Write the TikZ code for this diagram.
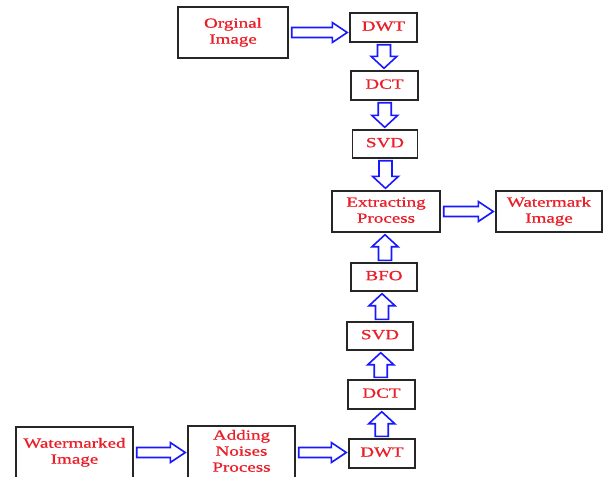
\documentclass[tikz,border=0pt]{standalone}
\usepackage{fontspec}
\setmainfont{Liberation Serif}
\newfontfamily\labfont[FakeBold=0.6]{Liberation Serif}
\usepackage{graphicx}
\usetikzlibrary{calc}
\definecolor{txtred}{RGB}{235,30,40}
\definecolor{arrblue}{RGB}{25,25,255}
\newcommand\tx[1]{\scalebox{1.36}[1]{\begin{tabular}{@{}c@{}}#1\end{tabular}}}
\tikzset{
  box/.style={draw=black!85, line width=1.4pt, fill=white, inner sep=0pt,
    font=\labfont\fontsize{14}{16}\selectfont, text=txtred},
  barrow/.style={draw=arrblue, line width=1.6pt, fill=white, line join=miter}
}
\newcommand\harr[2]{%
  \draw[barrow] let \p1=($(#1.east)+(3pt,0pt)$), \p2=($(#2.west)+(-2pt,0pt)$) in
  (\x1,\y1-5pt) -- (\x2-15pt,\y1-5pt) -- (\x2-15pt,\y1-10pt) -- (\x2,\y1)
  -- (\x2-15pt,\y1+10pt) -- (\x2-15pt,\y1+5pt) -- (\x1,\y1+5pt) -- cycle;}
\newcommand\varr[2]{%
  \draw[barrow] let \p1=(#1), \p2=(#2), \n1={sign(\y2-\y1)}, \n2={(\x1+\x2)/2} in
  (\n2-6.5pt,\y1+2pt*\n1) -- (\n2-6.5pt,\y2-14pt*\n1) -- (\n2-13pt,\y2-14pt*\n1)
  -- (\n2,\y2-2pt*\n1) -- (\n2+13pt,\y2-14pt*\n1) -- (\n2+6.5pt,\y2-14pt*\n1)
  -- (\n2+6.5pt,\y1+2pt*\n1) -- cycle;}
\begin{document}
\begin{tikzpicture}[x=1pt,y=-1pt]
\clip (0,0) rectangle (603,477);
\fill[white] (0,0) rectangle (603,477);
\node[box, minimum width=110pt, minimum height=51pt] (orig) at (233,32.5) {\tx{Orginal\\Image}};
\node[box, minimum width=67pt, minimum height=29pt] (dwt1) at (383.5,27.5) {\tx{DWT}};
\node[box, minimum width=67pt, minimum height=29pt] (dct1) at (384.5,85.5) {\tx{DCT}};
\node[box, minimum width=65pt, minimum height=28pt] (svd1) at (385,144) {\tx{SVD}};
\node[box, minimum width=108pt, minimum height=41pt] (extract) at (386,211.5) {\tx{Extracting\\Process}};
\node[box, minimum width=106pt, minimum height=41pt] (wm) at (549,211.5) {\tx{Watermark\\Image}};
\node[box, minimum width=66pt, minimum height=28pt] (bfo) at (384,277) {\tx{BFO}};
\node[box, minimum width=66pt, minimum height=28pt] (svd2) at (380,336) {\tx{SVD}};
\node[box, minimum width=67pt, minimum height=29pt] (dct2) at (381.5,394.5) {\tx{DCT}};
\node[box, minimum width=66pt, minimum height=29pt] (dwt2) at (382,453.5) {\tx{DWT}};
\node[box, minimum width=117pt, minimum height=51pt] (wmd) at (74.5,452.5) {\tx{Watermarked\\Image}};
\node[box, minimum width=107pt, minimum height=53pt] (adding) at (241.5,452.5) {\tx{Adding\\Noises\\Process}};
\harr{orig}{dwt1}
\varr{dwt1.south}{dct1.north}
\varr{dct1.south}{svd1.north}
\varr{svd1.south}{extract.north}
\harr{extract}{wm}
\varr{bfo.north}{extract.south}
\varr{svd2.north}{bfo.south}
\varr{dct2.north}{svd2.south}
\varr{dwt2.north}{dct2.south}
\harr{wmd}{adding}
\harr{adding}{dwt2}
\end{tikzpicture}
\end{document}
